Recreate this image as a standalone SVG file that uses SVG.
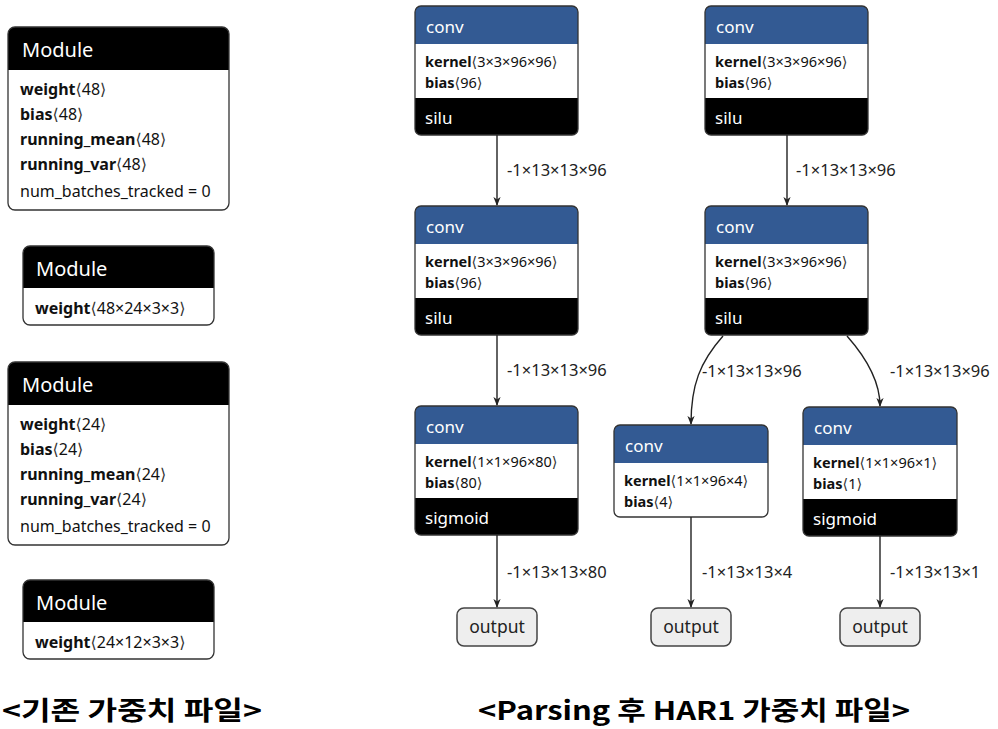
<svg xmlns="http://www.w3.org/2000/svg" width="998" height="729" viewBox="0 0 998 729">
<style>
text{font-family:"Noto Sans","Open Sans","DejaVu Sans",sans-serif;fill:#111}
.hdr{fill:#000}
.blue{fill:#335a93}
.frame{fill:none;stroke:#333;stroke-width:1.3}
.mt{font-size:20px;fill:#fff}
.row{font-size:16px}
.b{font-weight:bold}
.ab{font-family:"DejaVu Sans",sans-serif;font-weight:normal;fill:#333}
.ct{font-size:17px;fill:#fff}
.kr{font-size:14.5px}
.lbl{font-size:16.5px;fill:#222}
.out{fill:#eee;stroke:#444;stroke-width:1.5}
.ot{font-size:17.5px;fill:#222}
.edge{fill:none;stroke:#222;stroke-width:1.4}
.title{font-family:"Noto Sans CJK KR","Noto Sans",sans-serif;font-weight:bold;font-size:26px;fill:#000}
</style>
<defs>
<marker id="arr" viewBox="0 0 10 10" refX="9" refY="5" markerWidth="9" markerHeight="9" orient="auto" markerUnits="userSpaceOnUse">
<path d="M0,1 L10,5 L0,9 L3,5 Z" fill="#222"/>
</marker>
</defs>

<g id="module1">
<rect x="8" y="27" width="221" height="183" rx="7" fill="#fff"/>
<path d="M8,70 V34 a7,7 0 0 1 7,-7 H222 a7,7 0 0 1 7,7 V70 Z" class="hdr"/>
<rect x="8" y="27" width="221" height="183" rx="7" class="frame"/>
<text x="22" y="57" class="mt">Module</text>
<text x="20" y="95" class="row"><tspan class="b">weight</tspan><tspan class="ab">⟨</tspan>48<tspan class="ab">⟩</tspan></text>
<text x="20" y="120" class="row"><tspan class="b">bias</tspan><tspan class="ab">⟨</tspan>48<tspan class="ab">⟩</tspan></text>
<text x="20" y="145" class="row"><tspan class="b">running_mean</tspan><tspan class="ab">⟨</tspan>48<tspan class="ab">⟩</tspan></text>
<text x="20" y="170" class="row"><tspan class="b">running_var</tspan><tspan class="ab">⟨</tspan>48<tspan class="ab">⟩</tspan></text>
<text x="20" y="197" class="row">num_batches_tracked = 0</text>
</g>

<g id="module2">
<rect x="23" y="246" width="191" height="79" rx="7" fill="#fff"/>
<path d="M23,288 V253 a7,7 0 0 1 7,-7 H207 a7,7 0 0 1 7,7 V288 Z" class="hdr"/>
<rect x="23" y="246" width="191" height="79" rx="7" class="frame"/>
<text x="36" y="276" class="mt">Module</text>
<text x="35" y="314" class="row"><tspan class="b">weight</tspan><tspan class="ab">⟨</tspan>48×24×3×3<tspan class="ab">⟩</tspan></text>
</g>

<g id="module3">
<rect x="8" y="362" width="221" height="183" rx="7" fill="#fff"/>
<path d="M8,405 V369 a7,7 0 0 1 7,-7 H222 a7,7 0 0 1 7,7 V405 Z" class="hdr"/>
<rect x="8" y="362" width="221" height="183" rx="7" class="frame"/>
<text x="22" y="392" class="mt">Module</text>
<text x="20" y="430" class="row"><tspan class="b">weight</tspan><tspan class="ab">⟨</tspan>24<tspan class="ab">⟩</tspan></text>
<text x="20" y="455" class="row"><tspan class="b">bias</tspan><tspan class="ab">⟨</tspan>24<tspan class="ab">⟩</tspan></text>
<text x="20" y="480" class="row"><tspan class="b">running_mean</tspan><tspan class="ab">⟨</tspan>24<tspan class="ab">⟩</tspan></text>
<text x="20" y="505" class="row"><tspan class="b">running_var</tspan><tspan class="ab">⟨</tspan>24<tspan class="ab">⟩</tspan></text>
<text x="20" y="532" class="row">num_batches_tracked = 0</text>
</g>

<g id="module4">
<rect x="23" y="580" width="191" height="79" rx="7" fill="#fff"/>
<path d="M23,622 V587 a7,7 0 0 1 7,-7 H207 a7,7 0 0 1 7,7 V622 Z" class="hdr"/>
<rect x="23" y="580" width="191" height="79" rx="7" class="frame"/>
<text x="36" y="610" class="mt">Module</text>
<text x="35" y="648" class="row"><tspan class="b">weight</tspan><tspan class="ab">⟨</tspan>24×12×3×3<tspan class="ab">⟩</tspan></text>
</g>

<g id="convA1" transform="translate(415,6)">
<path d="M0,38 V6 a6,6 0 0 1 6,-6 H157 a6,6 0 0 1 6,6 V38 Z" class="blue"/>
<rect x="0" y="38" width="163" height="54" fill="#fff"/>
<path d="M0,92 H163 V123 a6,6 0 0 1 -6,6 H6 a6,6 0 0 1 -6,-6 Z" class="hdr"/>
<rect x="0" y="0" width="163" height="129" rx="6" class="frame"/>
<text x="11" y="27" class="ct">conv</text>
<text x="10" y="61" class="kr"><tspan class="b">kernel</tspan><tspan class="ab">⟨</tspan>3×3×96×96<tspan class="ab">⟩</tspan></text>
<text x="10" y="82" class="kr"><tspan class="b">bias</tspan><tspan class="ab">⟨</tspan>96<tspan class="ab">⟩</tspan></text>
<text x="10" y="118" class="ct">silu</text>
</g>
<g id="convA2" transform="translate(415,206)">
<path d="M0,38 V6 a6,6 0 0 1 6,-6 H157 a6,6 0 0 1 6,6 V38 Z" class="blue"/>
<rect x="0" y="38" width="163" height="54" fill="#fff"/>
<path d="M0,92 H163 V123 a6,6 0 0 1 -6,6 H6 a6,6 0 0 1 -6,-6 Z" class="hdr"/>
<rect x="0" y="0" width="163" height="129" rx="6" class="frame"/>
<text x="11" y="27" class="ct">conv</text>
<text x="10" y="61" class="kr"><tspan class="b">kernel</tspan><tspan class="ab">⟨</tspan>3×3×96×96<tspan class="ab">⟩</tspan></text>
<text x="10" y="82" class="kr"><tspan class="b">bias</tspan><tspan class="ab">⟨</tspan>96<tspan class="ab">⟩</tspan></text>
<text x="10" y="118" class="ct">silu</text>
</g>
<g id="convA3" transform="translate(415,406)">
<path d="M0,38 V6 a6,6 0 0 1 6,-6 H157 a6,6 0 0 1 6,6 V38 Z" class="blue"/>
<rect x="0" y="38" width="163" height="54" fill="#fff"/>
<path d="M0,92 H163 V123 a6,6 0 0 1 -6,6 H6 a6,6 0 0 1 -6,-6 Z" class="hdr"/>
<rect x="0" y="0" width="163" height="129" rx="6" class="frame"/>
<text x="11" y="27" class="ct">conv</text>
<text x="10" y="61" class="kr"><tspan class="b">kernel</tspan><tspan class="ab">⟨</tspan>1×1×96×80<tspan class="ab">⟩</tspan></text>
<text x="10" y="82" class="kr"><tspan class="b">bias</tspan><tspan class="ab">⟨</tspan>80<tspan class="ab">⟩</tspan></text>
<text x="10" y="118" class="ct">sigmoid</text>
</g>
<g id="convB1" transform="translate(705,6)">
<path d="M0,38 V6 a6,6 0 0 1 6,-6 H157 a6,6 0 0 1 6,6 V38 Z" class="blue"/>
<rect x="0" y="38" width="163" height="54" fill="#fff"/>
<path d="M0,92 H163 V123 a6,6 0 0 1 -6,6 H6 a6,6 0 0 1 -6,-6 Z" class="hdr"/>
<rect x="0" y="0" width="163" height="129" rx="6" class="frame"/>
<text x="11" y="27" class="ct">conv</text>
<text x="10" y="61" class="kr"><tspan class="b">kernel</tspan><tspan class="ab">⟨</tspan>3×3×96×96<tspan class="ab">⟩</tspan></text>
<text x="10" y="82" class="kr"><tspan class="b">bias</tspan><tspan class="ab">⟨</tspan>96<tspan class="ab">⟩</tspan></text>
<text x="10" y="118" class="ct">silu</text>
</g>
<g id="convB2" transform="translate(705,206)">
<path d="M0,38 V6 a6,6 0 0 1 6,-6 H157 a6,6 0 0 1 6,6 V38 Z" class="blue"/>
<rect x="0" y="38" width="163" height="54" fill="#fff"/>
<path d="M0,92 H163 V123 a6,6 0 0 1 -6,6 H6 a6,6 0 0 1 -6,-6 Z" class="hdr"/>
<rect x="0" y="0" width="163" height="129" rx="6" class="frame"/>
<text x="11" y="27" class="ct">conv</text>
<text x="10" y="61" class="kr"><tspan class="b">kernel</tspan><tspan class="ab">⟨</tspan>3×3×96×96<tspan class="ab">⟩</tspan></text>
<text x="10" y="82" class="kr"><tspan class="b">bias</tspan><tspan class="ab">⟨</tspan>96<tspan class="ab">⟩</tspan></text>
<text x="10" y="118" class="ct">silu</text>
</g>
<g id="convC" transform="translate(614,425)">
<rect x="0" y="0" width="154" height="92" rx="6" fill="#fff"/>
<path d="M0,38 V6 a6,6 0 0 1 6,-6 H148 a6,6 0 0 1 6,6 V38 Z" class="blue"/>
<rect x="0" y="0" width="154" height="92" rx="6" class="frame"/>
<text x="11" y="27" class="ct">conv</text>
<text x="10" y="61" class="kr"><tspan class="b">kernel</tspan><tspan class="ab">⟨</tspan>1×1×96×4<tspan class="ab">⟩</tspan></text>
<text x="10" y="82" class="kr"><tspan class="b">bias</tspan><tspan class="ab">⟨</tspan>4<tspan class="ab">⟩</tspan></text>
</g>
<g id="convD" transform="translate(803,407)">
<path d="M0,38 V6 a6,6 0 0 1 6,-6 H148 a6,6 0 0 1 6,6 V38 Z" class="blue"/>
<rect x="0" y="38" width="154" height="54" fill="#fff"/>
<path d="M0,92 H154 V123 a6,6 0 0 1 -6,6 H6 a6,6 0 0 1 -6,-6 Z" class="hdr"/>
<rect x="0" y="0" width="154" height="129" rx="6" class="frame"/>
<text x="11" y="27" class="ct">conv</text>
<text x="10" y="61" class="kr"><tspan class="b">kernel</tspan><tspan class="ab">⟨</tspan>1×1×96×1<tspan class="ab">⟩</tspan></text>
<text x="10" y="82" class="kr"><tspan class="b">bias</tspan><tspan class="ab">⟨</tspan>1<tspan class="ab">⟩</tspan></text>
<text x="10" y="118" class="ct">sigmoid</text>
</g>

<g id="outA"><rect x="457" y="608" width="80" height="38" rx="7" class="out"/><text x="497" y="633" class="ot" text-anchor="middle">output</text></g>
<g id="outC"><rect x="651" y="608" width="80" height="38" rx="7" class="out"/><text x="691" y="633" class="ot" text-anchor="middle">output</text></g>
<g id="outD"><rect x="840" y="608" width="80" height="38" rx="7" class="out"/><text x="880" y="633" class="ot" text-anchor="middle">output</text></g>

<g id="connectors">
<path d="M497,135 V205" class="edge" marker-end="url(#arr)"/>
<path d="M497,335 V405" class="edge" marker-end="url(#arr)"/>
<path d="M497,535 V607" class="edge" marker-end="url(#arr)"/>
<path d="M787,135 V205" class="edge" marker-end="url(#arr)"/>
<path d="M723,336 C700,362 691,385 691,424" class="edge" marker-end="url(#arr)"/>
<path d="M847,336 C870,362 880,385 880,406" class="edge" marker-end="url(#arr)"/>
<path d="M691,517 V607" class="edge" marker-end="url(#arr)"/>
<path d="M880,536 V607" class="edge" marker-end="url(#arr)"/>
<text x="507" y="176" class="lbl">-1×13×13×96</text>
<text x="507" y="376" class="lbl">-1×13×13×96</text>
<text x="507" y="578" class="lbl">-1×13×13×80</text>
<text x="796" y="176" class="lbl">-1×13×13×96</text>
<text x="702" y="377" class="lbl">-1×13×13×96</text>
<text x="890" y="377" class="lbl">-1×13×13×96</text>
<text x="702" y="578" class="lbl">-1×13×13×4</text>
<text x="890" y="578" class="lbl">-1×13×13×1</text>
</g>

<text x="2" y="720" class="title" textLength="260" lengthAdjust="spacingAndGlyphs">&lt;기존 가중치 파일&gt;</text>
<text x="478" y="720" class="title" textLength="432" lengthAdjust="spacingAndGlyphs">&lt;Parsing 후 HAR1 가중치 파일&gt;</text>
</svg>
